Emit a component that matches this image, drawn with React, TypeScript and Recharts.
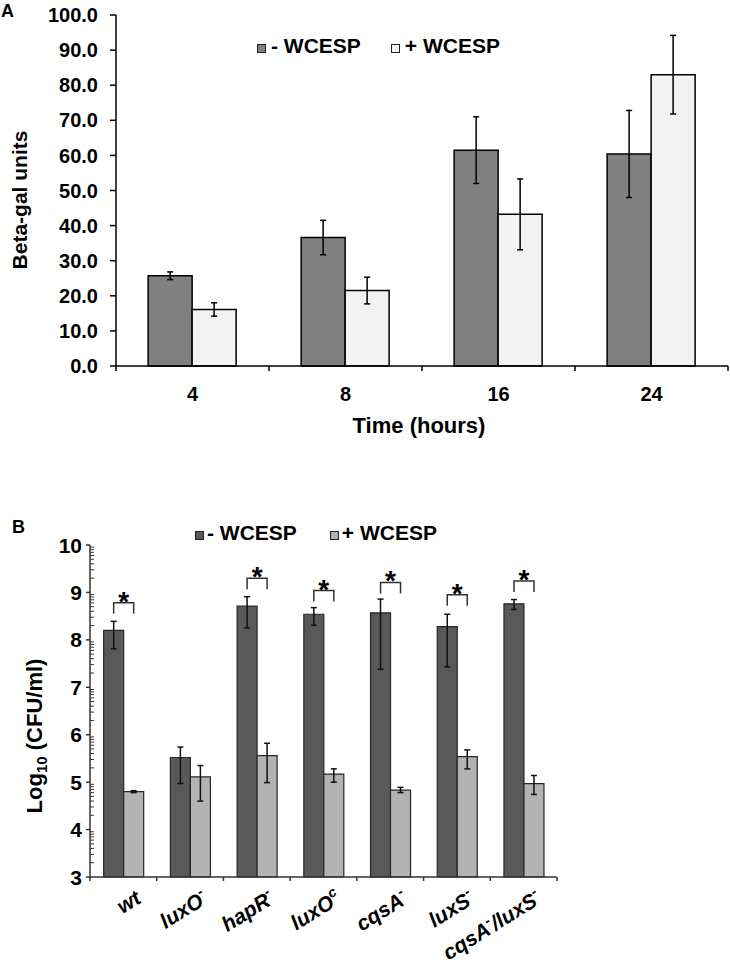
import { BarChart, Bar, XAxis, YAxis, ErrorBar, Legend, Label, LabelList } from "recharts";

const FONT = "'Liberation Sans', Arial, Helvetica, sans-serif";

// panel A: beta-gal units over time
const timesA = ["4", "8", "16", "24"];
const minusA = [25.7, 36.6, 61.5, 60.4];
const minusErrA = [1.1, 4.9, 9.5, 12.4];
const plusA = [16.1, 21.5, 43.2, 83.0];
const plusErrA = [1.9, 3.8, 10.1, 11.2];
const yTicksA = [0, 10, 20, 30, 40, 50, 60, 70, 80, 90, 100];

// panel B: log10 CFU/ml per strain ("^x" marks a superscript)
const strainsB = ["wt", "luxO^-", "hapR^-", "luxO^c", "cqsA^-", "luxS^-", "cqsA^-/luxS^-"];
const minusB = [8.2, 5.52, 8.71, 8.54, 8.57, 8.28, 8.76];
const minusErrB = [[0.39, 0.19], [0.55, 0.22], [0.46, 0.2], [0.23, 0.14], [1.19, 0.29], [0.85, 0.26], [0.12, 0.09]];
const plusB = [4.8, 5.11, 5.56, 5.17, 4.83, 5.54, 4.97];
const plusErrB = [[0.02, 0.02], [0.51, 0.24], [0.57, 0.26], [0.17, 0.11], [0.05, 0.06], [0.26, 0.14], [0.23, 0.17]];
const bracketB = [8.78, null, 9.3, 9.04, 9.21, 8.95, 9.24];
const yTicksB = [3, 4, 5, 6, 7, 8, 9, 10];
const minorStepsB = [2, 3, 4, 5, 6, 7, 8, 9];

const seriesNames = ["- WCESP", "+ WCESP"];

const dataA = timesA.map((t, i) => ({
  time: t,
  minus: minusA[i],
  minusErr: minusErrA[i],
  plus: plusA[i],
  plusErr: plusErrA[i],
}));

const dataB = strainsB.map((s, i) => ({
  strain: s,
  minus: minusB[i],
  minusErr: minusErrB[i],
  plus: plusB[i],
  plusErr: plusErrB[i],
  bracket: bracketB[i],
}));

// layout
const W = 730;
const H_A = 440;
const H_B = 493;
const Y_W_A = 116;
const PLOT_W_A = W - Y_W_A - 2;
const Y_W_B = 90;
const PLOT_W_B = 467;
const PLOT_H_B = 332;
const PPU_B = PLOT_H_B / (yTicksB[yTicksB.length - 1] - yTicksB[0]);
const LABEL_ANGLE_B = -32;

const boldText = { fontFamily: FONT, fontWeight: "bold" as const, fill: "#000" };

function XTickA(props: any) {
  const { x, y, payload, index } = props;
  const band = PLOT_W_A / timesA.length;
  const edges = [x - band / 2];
  if (index === timesA.length - 1) edges.push(x + band / 2);
  return (
    <g>
      {edges.map((ex, i) => (
        <line key={i} x1={ex} x2={ex} y1={y} y2={y + 5} stroke="#000" strokeWidth={1.5} />
      ))}
      <text x={x} y={y + 35} textAnchor="middle" fontSize={20} {...boldText}>
        {payload.value}
      </text>
    </g>
  );
}

function strainParts(label: string) {
  const parts: { t: string; sup: boolean }[] = [];
  const re = /\^(.)/g;
  let last = 0;
  let m: RegExpExecArray | null;
  while ((m = re.exec(label))) {
    if (m.index > last) parts.push({ t: label.slice(last, m.index), sup: false });
    parts.push({ t: m[1], sup: true });
    last = m.index + 2;
  }
  if (last < label.length) parts.push({ t: label.slice(last), sup: false });
  return parts;
}

function XTickB(props: any) {
  const { x, y, payload, index } = props;
  const band = PLOT_W_B / strainsB.length;
  const edges = [x - band / 2];
  if (index === strainsB.length - 1) edges.push(x + band / 2);
  const ax = x + 19;
  const ay = y + 25;
  const parts = strainParts(String(payload.value));
  let shift = 0;
  return (
    <g>
      {edges.map((ex, i) => (
        <line key={i} x1={ex} x2={ex} y1={y} y2={y + 4} stroke="#333" strokeWidth={1.5} />
      ))}
      <g transform={`translate(${ax}, ${ay}) rotate(${LABEL_ANGLE_B})`}>
        <text x={0} y={0} textAnchor="end" fontSize={21} fontStyle="italic" {...boldText}>
          {parts.map((p, i) => {
            const target = p.sup ? -9 : 0;
            const dy = target - shift;
            shift = target;
            return (
              <tspan key={i} dy={dy} fontSize={p.sup ? 14 : 21}>
                {p.t}
              </tspan>
            );
          })}
        </text>
      </g>
    </g>
  );
}

function YTickB(props: any) {
  const { y, payload } = props;
  const axisX = Y_W_B;
  const v = payload.value;
  const minors = v < yTicksB[yTicksB.length - 1] ? minorStepsB.map((k) => y - Math.log10(k) * PPU_B) : [];
  return (
    <g>
      <line x1={axisX - 4} x2={axisX} y1={y} y2={y} stroke="#333" strokeWidth={1.5} />
      {minors.map((my, i) => (
        <line key={i} x1={axisX} x2={axisX + 4} y1={my} y2={my} stroke="#333" strokeWidth={1} />
      ))}
      <text x={axisX - 8} y={y} dy="0.36em" textAnchor="end" fontSize={21} {...boldText}>
        {v}
      </text>
    </g>
  );
}

function BracketMark(props: any) {
  const vb = props.viewBox ?? props;
  const value = props.value;
  const index = props.index;
  if (value === null || value === undefined || vb == null) return null;
  const { x, y, width, height } = vb;
  const barValue = minusB[index];
  const ppu = height / (barValue - yTicksB[0]);
  const base = y + height;
  const top = base - (value - yTicksB[0]) * ppu;
  const x1 = x + width / 2;
  const x2 = x + width * 1.5;
  return (
    <g>
      <path d={`M${x1},${top + 11} L${x1},${top} L${x2},${top} L${x2},${top + 11}`} fill="none" stroke="#333" strokeWidth={1.5} />
      <text x={(x1 + x2) / 2} y={top + 8} textAnchor="middle" fontSize={28} {...boldText}>
        *
      </text>
    </g>
  );
}

function legendContent(gap: number, squareGap: number) {
  return (props: any) => {
    const items = [...(props.payload || [])].sort(
      (a: any, b: any) => seriesNames.indexOf(a.value) - seriesNames.indexOf(b.value)
    );
    return (
      <div
        style={{
          display: "flex",
          alignItems: "baseline",
          fontFamily: FONT,
          fontWeight: "bold",
          fontSize: 21,
          lineHeight: 1,
          color: "#000",
          whiteSpace: "nowrap",
        }}
      >
        {items.map((p: any, i: number) => (
          <span key={i} style={{ display: "flex", alignItems: "baseline", marginRight: i === 0 ? gap : 0 }}>
            <span
              style={{
                display: "inline-block",
                width: 7,
                height: 7,
                border: "1px solid #222",
                background: p.color,
                marginRight: squareGap,
              }}
            />
            {p.value}
          </span>
        ))}
      </div>
    );
  };
}

function ChartA() {
  return (
    <BarChart
      width={W}
      height={H_A}
      data={dataA}
      margin={{ top: 15, right: 2, left: 0, bottom: 0 }}
      barGap={0}
      barCategoryGap="21%"
    >
      <YAxis
        width={Y_W_A}
        domain={[0, 100]}
        ticks={yTicksA}
        interval={0}
        tickFormatter={(v: number) => v.toFixed(1)}
        tickSize={6}
        tickMargin={12}
        axisLine={{ stroke: "#000", strokeWidth: 1.5 }}
        tickLine={{ stroke: "#000", strokeWidth: 1.5 }}
        tick={{ fontSize: 20, ...boldText }}
      >
        <Label
          content={() => (
            <text x={27} y={200} transform="rotate(-90, 27, 200)" textAnchor="middle" fontSize={21} {...boldText}>
              Beta-gal units
            </text>
          )}
        />
      </YAxis>
      <XAxis
        dataKey="time"
        height={74}
        interval={0}
        tickLine={false}
        tickSize={0}
        tickMargin={0}
        axisLine={{ stroke: "#000", strokeWidth: 1.5 }}
        tick={<XTickA />}
      >
        <Label
          content={() => (
            <text x={Y_W_A + PLOT_W_A / 2 - 3} y={433} textAnchor="middle" fontSize={22} {...boldText}>
              Time (hours)
            </text>
          )}
        />
      </XAxis>
      <Legend
        verticalAlign="middle"
        layout="horizontal"
        align="center"
        content={legendContent(30, 5)}
        wrapperStyle={{ top: 35, left: 257, width: "auto" }}
      />
      <Bar dataKey="minus" name={seriesNames[0]} fill="#808080" stroke="#000" strokeWidth={1.5} isAnimationActive={false}>
        <ErrorBar dataKey="minusErr" width={3} stroke="#000" strokeWidth={1.5} />
      </Bar>
      <Bar dataKey="plus" name={seriesNames[1]} fill="#f2f2f2" stroke="#000" strokeWidth={1.5} isAnimationActive={false}>
        <ErrorBar dataKey="plusErr" width={3} stroke="#000" strokeWidth={1.5} />
      </Bar>
    </BarChart>
  );
}

function ChartB() {
  return (
    <BarChart
      width={W}
      height={H_B}
      data={dataB}
      margin={{ top: 75, right: W - Y_W_B - PLOT_W_B, left: 0, bottom: 0 }}
      barGap={0}
      barCategoryGap="20.5%"
    >
      <YAxis
        width={Y_W_B}
        domain={[3, 10]}
        ticks={yTicksB}
        interval={0}
        tickLine={false}
        axisLine={{ stroke: "#333", strokeWidth: 1.5 }}
        tick={<YTickB />}
      >
        <Label
          content={() => (
            <text x={42} y={266} transform="rotate(-90, 42, 266)" textAnchor="middle" fontSize={22} {...boldText}>
              Log
              <tspan dy={5} fontSize={15}>
                10
              </tspan>
              <tspan dy={-5}> (CFU/ml)</tspan>
            </text>
          )}
        />
      </YAxis>
      <XAxis
        dataKey="strain"
        height={H_B - 75 - PLOT_H_B}
        interval={0}
        tickLine={false}
        tickSize={0}
        tickMargin={0}
        axisLine={{ stroke: "#333", strokeWidth: 1.5 }}
        tick={<XTickB />}
      />
      <Legend
        verticalAlign="middle"
        layout="horizontal"
        align="center"
        content={legendContent(33, 3)}
        wrapperStyle={{ top: 52, left: 195, width: "auto" }}
      />
      <Bar dataKey="minus" name={seriesNames[0]} fill="#595959" stroke="#262626" strokeWidth={1.2} isAnimationActive={false}>
        <ErrorBar dataKey="minusErr" width={3} stroke="#111" strokeWidth={1.5} />
        <LabelList dataKey="bracket" content={BracketMark} />
      </Bar>
      <Bar dataKey="plus" name={seriesNames[1]} fill="#b3b3b3" stroke="#262626" strokeWidth={1.2} isAnimationActive={false}>
        <ErrorBar dataKey="plusErr" width={3} stroke="#111" strokeWidth={1.5} />
      </Bar>
    </BarChart>
  );
}

export default function App() {
  return (
    <div style={{ position: "absolute", left: 0, top: 0, width: W, height: 963, background: "#fff" }}>
      <div style={{ position: "absolute", left: 1, top: 2, fontFamily: FONT, fontWeight: "bold", fontSize: 18, lineHeight: 1 }}>
        A
      </div>
      <div style={{ position: "absolute", left: 0, top: 0 }}>
        <ChartA />
      </div>
      <div style={{ position: "absolute", left: 12, top: 518, fontFamily: FONT, fontWeight: "bold", fontSize: 18, lineHeight: 1 }}>
        B
      </div>
      <div style={{ position: "absolute", left: 0, top: 470 }}>
        <ChartB />
      </div>
    </div>
  );
}
